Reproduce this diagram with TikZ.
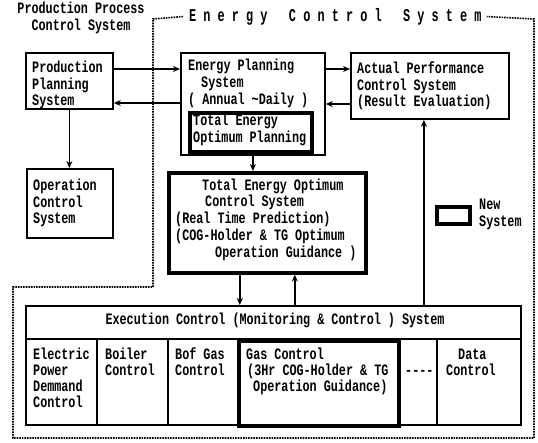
\documentclass[tikz,border=0pt]{standalone}
\usepackage{fontspec}
\newfontfamily\tw[FakeStretch=0.74]{Liberation Mono}
\newfontfamily\twt[FakeStretch=0.66]{Liberation Mono}
\usetikzlibrary{arrows.meta}
\newcommand\bodyf{\tw\bfseries\fontsize{15.9}{17}\selectfont}
\newcommand\titlef{\twt\bfseries\fontsize{18}{20}\selectfont}
\tikzset{
  box/.style={draw, line width=1.8pt, inner sep=0pt, anchor=north west},
  newbox/.style={draw, line width=3.6pt, inner sep=0pt, anchor=north west},
  lbl/.style={anchor=mid west, inner sep=0pt, font=\bodyf},
  arr/.style={line width=1.8pt, -{Stealth[length=7pt,width=6pt]}},
  region/.style={line width=1.6pt, densely dotted},
}
\begin{document}
\begin{tikzpicture}[x=1pt,y=-1pt]
\useasboundingbox (0,0) rectangle (538,442);
% title and region label
\node[anchor=mid west, inner sep=0pt, font=\titlef] (title) at (189,19) {E n e r g y\ \ \ C o n t r o l\ \ \ S y s t e m};
\node[anchor=mid, inner sep=0pt, font=\bodyf, align=center] (pplabel) at (81,28) {Production Process\\Control System};
% dotted regions
\draw[region] ([xshift=-6pt]title.west) -- (153,19) -- (153,287) -- (13,287) -- (13,438) -- (534,438) -- (534,19) -- ([xshift=5pt]title.east);
% boxes
\node[box, minimum width=87pt, minimum height=56pt] (pps) at (25,52) {};
\node[lbl] (ppst1) at (32,70) {Production};
\node[lbl] (ppst2) at (32,87) {Planning};
\node[lbl] (ppst3) at (32,103) {System};

\node[box, minimum width=144pt, minimum height=102pt] (eps) at (180,52) {};
\node[lbl] (epst1) at (188,68) {Energy Planning};
\node[lbl] (epst2) at (201,85) {System};
\node[lbl] (epst3) at (188,102) {( Annual \textasciitilde Daily )};
\node[newbox, minimum width=122pt, minimum height=39pt] (teop) at (188,111) {};
\node[lbl] (teopt1) at (193,123.5) {Total Energy};
\node[lbl] (teopt2) at (193,140) {Optimum Planning};

\node[box, minimum width=158pt, minimum height=66pt] (apcs) at (350,52) {};
\node[lbl] (apcst1) at (357,71) {Actual Performance};
\node[lbl] (apcst2) at (357,88) {Control System};
\node[lbl] (apcst3) at (357,104) {(Result Evaluation)};

\node[box, minimum width=86pt, minimum height=69pt] (ocs) at (26,168) {};
\node[lbl] (ocst1) at (33,188) {Operation};
\node[lbl] (ocst2) at (33,205) {Control};
\node[lbl] (ocst3) at (33,221) {System};

\node[newbox, minimum width=197pt, minimum height=100pt] (teocs) at (167,171) {};
\node[lbl] (teocst1) at (202,188) {Total Energy Optimum};
\node[lbl] (teocst2) at (205,204) {Control System};
\node[lbl] (teocst3) at (175,221) {(Real Time Prediction)};
\node[lbl] (teocst4) at (175,238) {(COG-Holder \& TG Optimum};
\node[lbl] (teocst5) at (215,255) {Operation Guidance )};

% legend
\node[newbox, minimum width=33pt, minimum height=17pt] (legbox) at (435,205) {};
\node[lbl] (legt1) at (479,207) {New};
\node[lbl] (legt2) at (479,224) {System};

% execution
\node[box, minimum width=495pt, minimum height=119pt] (exec) at (25,305) {};
\node[anchor=mid, inner sep=0pt, font=\bodyf] (exect) at (275,322) {Execution Control (Monitoring \& Control ) System};
\draw[line width=1.8pt] (25,339) -- (520,339);
\draw[line width=1.8pt] (97,339) -- (97,424);
\draw[line width=1.8pt] (168,339) -- (168,424);
\draw[line width=1.8pt] (437,339) -- (437,424);
\node[newbox, minimum width=160pt, minimum height=85pt] (gas) at (237,339) {};
\node[lbl] (c1a) at (33,357) {Electric};
\node[lbl] (c1b) at (33,373) {Power};
\node[lbl] (c1c) at (33,389) {Demmand};
\node[lbl] (c1d) at (33,405) {Control};
\node[lbl] (c2a) at (105,357) {Boiler};
\node[lbl] (c2b) at (105,373) {Control};
\node[lbl] (c3a) at (175,357) {Bof Gas};
\node[lbl] (c3b) at (175,373) {Control};
\node[lbl] (c4a) at (246,357) {Gas Control};
\node[lbl] (c4b) at (247,373) {(3Hr COG-Holder \& TG};
\node[lbl] (c4c) at (253,389) {Operation Guidance)};
\node[lbl] (c5a) at (405,373) {----};
\node[lbl] (c6a) at (458,357) {Data};
\node[lbl] (c6b) at (446,373) {Control};

% arrows
\draw[arr] ([yshift=-17pt]pps.north east) -- ([yshift=-17pt]eps.north west);
\draw[arr] ([yshift=-51pt]eps.north west) -- ([yshift=-51pt]pps.north east);
\draw[arr] ([yshift=-17pt]eps.north east) -- ([yshift=-17pt]apcs.north west);
\draw[arr] ([yshift=-52pt]apcs.north west) -- ([yshift=-52pt]eps.north east);
\draw[arr] (pps.south) -- (pps.south |- ocs.north);
\draw[arr] (eps.south) -- (eps.south |- teocs.north);
\draw[arr] ([xshift=-27.5pt]teocs.south) -- ([xshift=-27.5pt]teocs.south |- exec.north);
\draw[arr] ([xshift=27.5pt]teocs.south |- exec.north) -- ([xshift=27.5pt]teocs.south);
\draw[arr] ([xshift=150.5pt]exec.north) -- ([xshift=150.5pt]exec.north |- apcs.south);
\end{tikzpicture}
\end{document}
